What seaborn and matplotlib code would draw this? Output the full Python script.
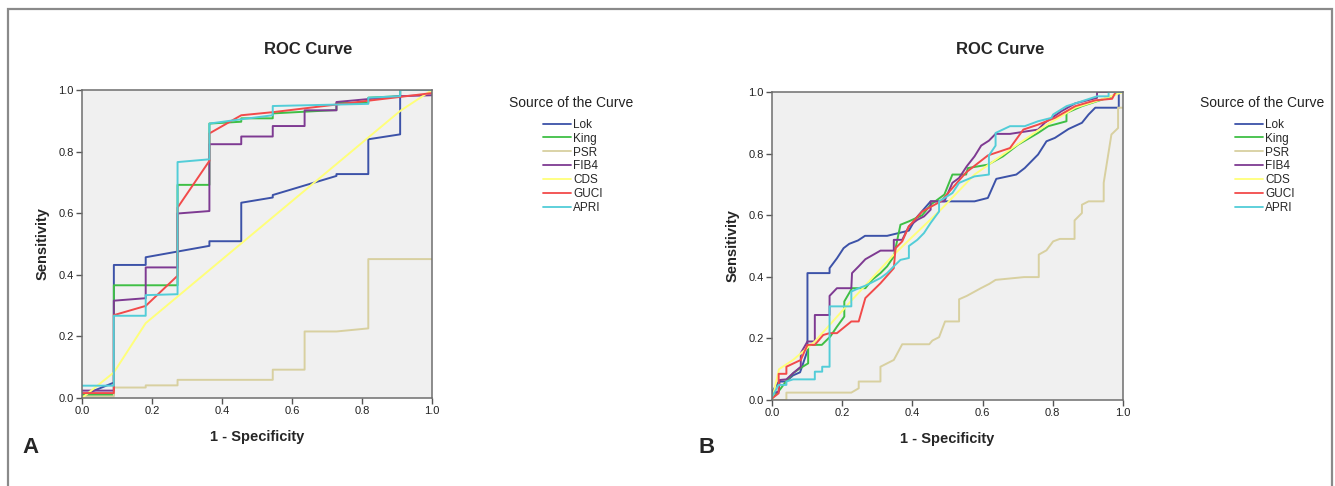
import pandas as pd
import matplotlib
matplotlib.use("Agg")
import matplotlib.pyplot as plt
from matplotlib.patches import Rectangle
import seaborn as sns

curves = ['Lok', 'King', 'PSR', 'FIB4', 'CDS', 'GUCI', 'APRI']
colors = ['#3c52a8', '#3fbf45', '#d8d0a0', '#7e3a92', '#ffff7a', '#f24a4a', '#52cdd8']

# panel A (x = 1 - specificity, y = sensitivity)
lok_a_x = [0, 0.091, 0.091, 0.182, 0.182, 0.364, 0.364, 0.455, 0.455, 0.545, 0.545, 0.727, 0.727, 0.818, 0.818, 0.909, 0.909, 0.909, 1.0]
lok_a_y = [0.008, 0.05, 0.432, 0.432, 0.457, 0.494, 0.509, 0.509, 0.634, 0.651, 0.659, 0.721, 0.727, 0.727, 0.840, 0.856, 0.926, 1.0, 1.0]
king_a_x = [0, 0.091, 0.091, 0.273, 0.273, 0.364, 0.364, 0.455, 0.455, 0.545, 0.545, 0.727, 0.727, 0.818, 0.818, 0.909, 0.909, 1.0]
king_a_y = [0.01, 0.01, 0.366, 0.366, 0.692, 0.692, 0.891, 0.897, 0.908, 0.908, 0.924, 0.935, 0.958, 0.958, 0.975, 0.98, 1.0, 1.0]
psr_a_x = [0, 0.091, 0.091, 0.182, 0.182, 0.273, 0.273, 0.545, 0.545, 0.636, 0.636, 0.727, 0.818, 0.818, 1.0]
psr_a_y = [0.005, 0.005, 0.034, 0.034, 0.041, 0.041, 0.059, 0.059, 0.092, 0.092, 0.216, 0.216, 0.226, 0.451, 0.451]
fib4_a_x = [0, 0.091, 0.091, 0.182, 0.182, 0.273, 0.273, 0.364, 0.364, 0.455, 0.455, 0.545, 0.545, 0.636, 0.636, 0.727, 0.727, 0.909, 1.0]
fib4_a_y = [0.024, 0.024, 0.316, 0.324, 0.424, 0.424, 0.599, 0.607, 0.824, 0.824, 0.849, 0.849, 0.883, 0.883, 0.934, 0.934, 0.961, 0.98, 0.983]
cds_a_x = [0, 0.091, 0.182, 0.909, 1.0]
cds_a_y = [0, 0.083, 0.243, 0.932, 1.0]
guci_a_x = [0, 0.091, 0.091, 0.182, 0.273, 0.273, 0.364, 0.364, 0.455, 0.545, 1.0]
guci_a_y = [0.016, 0.016, 0.269, 0.299, 0.397, 0.618, 0.770, 0.859, 0.918, 0.928, 0.99]
apri_a_x = [0, 0.091, 0.091, 0.182, 0.182, 0.273, 0.273, 0.364, 0.364, 0.455, 0.545, 0.545, 0.818, 0.818, 0.909, 0.909, 1.0]
apri_a_y = [0.04, 0.04, 0.267, 0.267, 0.334, 0.337, 0.766, 0.775, 0.891, 0.905, 0.918, 0.948, 0.955, 0.975, 0.98, 1.0, 1.0]

# panel B
lok_b_x = [0, 0.02, 0.04, 0.06, 0.08, 0.101, 0.101, 0.164, 0.164, 0.185, 0.204, 0.22, 0.245, 0.265, 0.328, 0.39, 0.41, 0.452, 0.577, 0.615, 0.639, 0.696, 0.720, 0.758, 0.782, 0.806, 0.845, 0.883, 0.902, 0.921, 0.988, 0.988, 1.0]
lok_b_y = [0.027, 0.06, 0.06, 0.08, 0.09, 0.16, 0.412, 0.412, 0.428, 0.46, 0.493, 0.507, 0.518, 0.533, 0.533, 0.55, 0.59, 0.645, 0.645, 0.656, 0.718, 0.732, 0.753, 0.797, 0.840, 0.851, 0.880, 0.90, 0.927, 0.949, 0.949, 1.0, 1.0]
king_b_x = [0, 0.02, 0.04, 0.06, 0.08, 0.103, 0.103, 0.142, 0.166, 0.185, 0.206, 0.206, 0.228, 0.266, 0.285, 0.309, 0.328, 0.347, 0.366, 0.39, 0.428, 0.452, 0.491, 0.514, 0.553, 0.558, 0.615, 0.658, 0.701, 0.758, 0.787, 0.839, 0.839, 0.883, 0.926, 0.969, 0.988, 1.0]
king_b_y = [0.005, 0.03, 0.06, 0.087, 0.103, 0.119, 0.179, 0.179, 0.206, 0.238, 0.271, 0.32, 0.363, 0.363, 0.39, 0.412, 0.434, 0.466, 0.569, 0.58, 0.60, 0.634, 0.667, 0.732, 0.732, 0.753, 0.764, 0.791, 0.829, 0.867, 0.889, 0.905, 0.932, 0.954, 0.970, 0.986, 1.0, 1.0]
psr_b_x = [0, 0.041, 0.041, 0.226, 0.247, 0.247, 0.309, 0.309, 0.328, 0.347, 0.371, 0.448, 0.457, 0.476, 0.493, 0.533, 0.533, 0.555, 0.595, 0.619, 0.637, 0.718, 0.760, 0.760, 0.782, 0.801, 0.820, 0.862, 0.862, 0.883, 0.883, 0.902, 0.945, 0.945, 0.967, 0.986, 0.986, 1.0]
psr_b_y = [0, 0, 0.024, 0.024, 0.038, 0.06, 0.06, 0.108, 0.119, 0.13, 0.181, 0.181, 0.193, 0.204, 0.255, 0.255, 0.327, 0.338, 0.363, 0.377, 0.39, 0.399, 0.399, 0.472, 0.486, 0.515, 0.523, 0.523, 0.583, 0.607, 0.634, 0.645, 0.645, 0.705, 0.862, 0.883, 0.949, 0.949]
fib4_b_x = [0, 0.019, 0.022, 0.041, 0.06, 0.082, 0.082, 0.101, 0.122, 0.122, 0.164, 0.164, 0.185, 0.226, 0.228, 0.247, 0.266, 0.289, 0.309, 0.347, 0.347, 0.371, 0.39, 0.414, 0.433, 0.452, 0.452, 0.491, 0.514, 0.533, 0.555, 0.577, 0.596, 0.618, 0.637, 0.678, 0.758, 0.777, 0.825, 0.864, 0.926, 0.926, 1.0]
fib4_b_y = [0.022, 0.027, 0.065, 0.067, 0.087, 0.108, 0.152, 0.19, 0.19, 0.276, 0.276, 0.338, 0.363, 0.363, 0.412, 0.434, 0.457, 0.472, 0.485, 0.485, 0.520, 0.520, 0.564, 0.585, 0.596, 0.618, 0.645, 0.645, 0.705, 0.721, 0.759, 0.791, 0.826, 0.842, 0.864, 0.864, 0.878, 0.90, 0.938, 0.963, 0.981, 1.0, 1.0]
cds_b_x = [0, 0.02, 0.06, 0.122, 0.228, 0.342, 0.40, 0.481, 0.577, 0.672, 0.768, 0.864, 0.95, 1.0]
cds_b_y = [0, 0.10, 0.13, 0.19, 0.325, 0.466, 0.53, 0.618, 0.732, 0.808, 0.883, 0.949, 0.98, 1.0]
guci_b_x = [0, 0.019, 0.019, 0.041, 0.041, 0.082, 0.101, 0.122, 0.146, 0.164, 0.185, 0.226, 0.247, 0.266, 0.309, 0.347, 0.352, 0.371, 0.39, 0.428, 0.481, 0.553, 0.615, 0.678, 0.716, 0.758, 0.806, 0.864, 0.921, 0.969, 0.979, 1.0]
guci_b_y = [0.005, 0.022, 0.085, 0.085, 0.108, 0.13, 0.179, 0.179, 0.211, 0.217, 0.217, 0.255, 0.255, 0.331, 0.379, 0.428, 0.493, 0.515, 0.564, 0.612, 0.645, 0.739, 0.794, 0.818, 0.878, 0.894, 0.916, 0.954, 0.973, 0.978, 1.0, 1.0]
apri_b_x = [0, 0.019, 0.041, 0.041, 0.06, 0.122, 0.122, 0.143, 0.143, 0.164, 0.164, 0.226, 0.226, 0.247, 0.266, 0.309, 0.328, 0.347, 0.366, 0.39, 0.39, 0.414, 0.433, 0.452, 0.476, 0.476, 0.514, 0.533, 0.577, 0.618, 0.618, 0.637, 0.637, 0.678, 0.720, 0.758, 0.796, 0.801, 0.839, 0.883, 0.926, 0.959, 0.959, 1.0]
apri_b_y = [0.01, 0.049, 0.049, 0.06, 0.067, 0.067, 0.092, 0.092, 0.108, 0.108, 0.304, 0.304, 0.352, 0.363, 0.371, 0.396, 0.412, 0.434, 0.455, 0.461, 0.50, 0.52, 0.542, 0.575, 0.612, 0.645, 0.672, 0.705, 0.726, 0.732, 0.794, 0.826, 0.867, 0.889, 0.889, 0.905, 0.916, 0.927, 0.954, 0.970, 0.986, 0.986, 1.0, 1.0]

panel_a = [(lok_a_x, lok_a_y), (king_a_x, king_a_y), (psr_a_x, psr_a_y), (fib4_a_x, fib4_a_y),
           (cds_a_x, cds_a_y), (guci_a_x, guci_a_y), (apri_a_x, apri_a_y)]
panel_b = [(lok_b_x, lok_b_y), (king_b_x, king_b_y), (psr_b_x, psr_b_y), (fib4_b_x, fib4_b_y),
           (cds_b_x, cds_b_y), (guci_b_x, guci_b_y), (apri_b_x, apri_b_y)]


def to_frame(panel):
    parts = []
    for name, (xs, ys) in zip(curves, panel):
        parts.append(pd.DataFrame({'fpr': xs, 'tpr': ys, 'curve': name}))
    return pd.concat(parts, ignore_index=True)


sns.set_style("ticks")
plt.rcParams['font.family'] = ['Liberation Sans', 'DejaVu Sans']

fig = plt.figure(figsize=(13.35, 4.86), dpi=100)
fig.add_artist(Rectangle((8 / 1335, -0.1), 1324 / 1335, 1.1 - 9 / 486, transform=fig.transFigure,
                         fill=False, edgecolor='#8a8a8a', linewidth=1.6))

layout = [
    # axes rect, title x, legend title x, legend left, letter, letter x, data
    ([82 / 1335, 88 / 486, 350 / 1335, 308 / 486], 308, 571, 538, 'A', 22, to_frame(panel_a)),
    ([772 / 1335, 86 / 486, 351 / 1335, 308 / 486], 1000, 1262, 1230, 'B', 698, to_frame(panel_b)),
]

for rect, tx, ltx, lx, letter, letx, df in layout:
    ax = fig.add_axes(rect)
    ax.set_facecolor('#f0f0f0')
    sns.lineplot(data=df, x='fpr', y='tpr', hue='curve', hue_order=curves,
                 palette=colors, sort=False, estimator=None, linewidth=1.4, ax=ax)
    ax.set_xlim(0, 1)
    ax.set_ylim(0, 1)
    ax.set_xticks([0, 0.2, 0.4, 0.6, 0.8, 1.0])
    ax.set_yticks([0, 0.2, 0.4, 0.6, 0.8, 1.0])
    ax.xaxis.set_major_formatter(matplotlib.ticker.FormatStrFormatter('%.1f'))
    ax.yaxis.set_major_formatter(matplotlib.ticker.FormatStrFormatter('%.1f'))
    ax.tick_params(labelsize=8, length=4, width=1, color='#555555', labelcolor='#222222', pad=2)
    for sp in ax.spines.values():
        sp.set_visible(True)
        sp.set_color('#6e6e6e')
        sp.set_linewidth(1.1)
    ax.set_xlabel('1 - Specificity', fontsize=10.5, fontweight='bold', labelpad=10)
    ax.set_ylabel('Sensitivity', fontsize=10.5, fontweight='bold', labelpad=6)
    handles, labels = ax.get_legend_handles_labels()
    ax.get_legend().remove()
    leg = fig.legend(handles, labels, loc='upper left',
                     bbox_to_anchor=(lx / 1335, 1 - 114 / 486), frameon=False, fontsize=8.5,
                     handlelength=2.4, handletextpad=0.2,
                     labelspacing=0.16, borderaxespad=0)
    for ln in leg.get_lines():
        ln.set_linewidth(1.3)
    fig.text(ltx / 1335, 1 - 103 / 486, 'Source of the Curve', ha='center', va='center',
             fontsize=10, color='#222222')
    fig.text(tx / 1335, 1 - 49 / 486, 'ROC Curve', ha='center', va='center',
             fontsize=12, fontweight='bold')
    fig.text(letx / 1335, 1 - 447 / 486, letter, ha='left', va='center',
             fontsize=16, fontweight='bold')

fig.savefig('out.png', dpi=100)
